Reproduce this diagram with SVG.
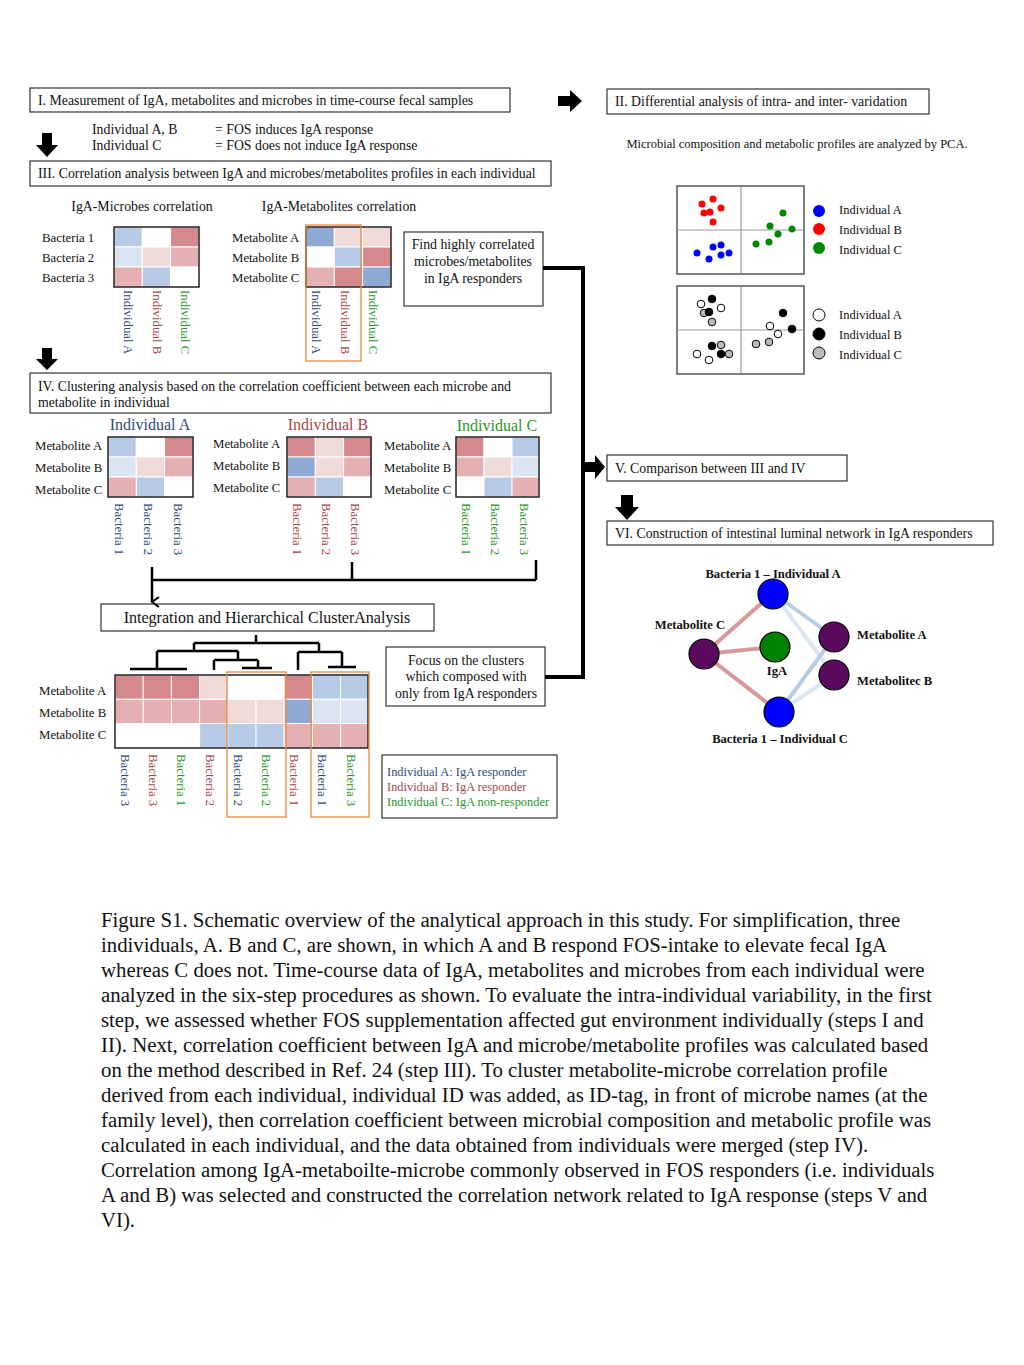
<svg xmlns="http://www.w3.org/2000/svg" width="1024" height="1365" viewBox="0 0 1024 1365">
<style>
text{font-family:"Liberation Serif","Times New Roman",serif;fill:#111}
.t{font-size:13.8px}
.s{font-size:12.8px}
.p{font-size:12.5px}
.lg{font-size:12.4px}
.ti{font-size:16px}
.nl{font-size:12.6px;font-weight:bold}
.cap{font-size:20.8px}
.box{fill:#fff;stroke:#333;stroke-width:1.2}
.hm{fill:none;stroke:#222;stroke-width:1.5}
.cell{stroke:#fff;stroke-width:1}
.R3{fill:#d48a8c}.R2{fill:#e5b0b2}.R1{fill:#f1dada}.B3{fill:#8eaad4}.B2{fill:#b7cbe6}.B1{fill:#dbe4f1}.W{fill:#fff}
.ca{fill:#2f4a7c}.cb{fill:#a3474b}.cc{fill:#2a962a}
.org{fill:none;stroke:#e8893a;stroke-width:1.3}
.ln{fill:none;stroke:#000;stroke-width:2.5}
.thick{fill:none;stroke:#000;stroke-width:4}
.blk{fill:#000}
.grid{stroke:#9a9a9a;stroke-width:1.2}
.pbox{fill:#fff;stroke:#555;stroke-width:1.5}
.node{stroke:#000;stroke-width:1.2}
</style>
<defs>
<marker id="chev" viewBox="0 0 12 12" refX="6" refY="11" markerWidth="12" markerHeight="12" markerUnits="userSpaceOnUse" orient="auto-start-reverse">
<path d="M1,4 L6,11 L11,4" fill="none" stroke="#000" stroke-width="2"/>
</marker>
</defs>
<rect width="1024" height="1365" fill="#fff"/>

<!-- Step I -->
<g id="step1">
<rect class="box" x="30" y="88" width="480" height="24"/>
<text class="t" x="38" y="105">I. Measurement of  IgA, metabolites and microbes in time-course fecal samples</text>
</g>
<g id="individuals-note">
<text class="t" x="92" y="134">Individual A, B</text>
<text class="t" x="215" y="134">= FOS induces IgA response</text>
<text class="t" x="92" y="150">Individual C</text>
<text class="t" x="215" y="150">= FOS does not induce IgA response</text>
</g>

<!-- Step II -->
<g id="step2">
<rect class="box" x="607" y="89" width="322" height="25"/>
<text class="t" x="615" y="106">II. Differential analysis of intra- and inter- varidation</text>
<text class="p" x="797" y="148" text-anchor="middle">Microbial composition and metabolic profiles are analyzed by PCA.</text>
</g>

<!-- PCA plot 1 -->
<g id="pca1">
<rect class="pbox" x="677" y="186" width="127" height="88"/>
<line class="grid" x1="741" y1="187" x2="741" y2="273"/>
<line class="grid" x1="678" y1="230" x2="803" y2="230"/>
<g fill="#f00">
<circle cx="702" cy="204" r="3.5"/><circle cx="713" cy="199" r="3.5"/><circle cx="721" cy="208" r="3.5"/><circle cx="704" cy="213" r="3.5"/><circle cx="710" cy="212" r="3.5"/><circle cx="713" cy="222" r="3.5"/>
</g>
<g fill="#00f">
<circle cx="697" cy="253" r="3.5"/><circle cx="713" cy="247" r="3.5"/><circle cx="721" cy="245" r="3.5"/><circle cx="721" cy="255" r="3.5"/><circle cx="729" cy="253" r="3.5"/><circle cx="709" cy="259" r="3.5"/>
</g>
<g fill="#080">
<circle cx="783" cy="213" r="3.5"/><circle cx="770" cy="226" r="3.5"/><circle cx="792" cy="229" r="3.5"/><circle cx="778" cy="234" r="3.5"/><circle cx="756" cy="244" r="3.5"/><circle cx="769" cy="242" r="3.5"/>
</g>
<circle cx="819" cy="211" r="6" fill="#00f"/>
<circle cx="819" cy="229" r="6" fill="#f00"/>
<circle cx="819" cy="248" r="6" fill="#080"/>
<text class="p" x="839" y="214">Individual A</text>
<text class="p" x="839" y="234">Individual B</text>
<text class="p" x="839" y="254">Individual C</text>
</g>

<!-- PCA plot 2 -->
<g id="pca2">
<rect class="pbox" x="677" y="286" width="127" height="88"/>
<line class="grid" x1="741" y1="287" x2="741" y2="373"/>
<line class="grid" x1="678" y1="330" x2="803" y2="330"/>
<g stroke="#000" stroke-width="1">
<circle cx="701" cy="304" r="3.8" fill="#fff"/><circle cx="712" cy="299" r="3.8" fill="#000"/><circle cx="721" cy="308" r="3.8" fill="#fff"/><circle cx="704" cy="313" r="3.8" fill="#bbb"/><circle cx="709" cy="312" r="3.8" fill="#000"/><circle cx="712" cy="322" r="3.8" fill="#bbb"/>
<circle cx="712" cy="346" r="3.8" fill="#000"/><circle cx="721" cy="345" r="3.8" fill="#bbb"/><circle cx="697" cy="354" r="3.8" fill="#fff"/><circle cx="721" cy="354" r="3.8" fill="#000"/><circle cx="729" cy="354" r="3.8" fill="#bbb"/><circle cx="709" cy="360" r="3.8" fill="#fff"/>
<circle cx="783" cy="313" r="3.8" fill="#000"/><circle cx="770" cy="326" r="3.8" fill="#fff"/><circle cx="792" cy="329" r="3.8" fill="#000"/><circle cx="778" cy="334" r="3.8" fill="#fff"/><circle cx="756" cy="344" r="3.8" fill="#bbb"/><circle cx="769" cy="342" r="3.8" fill="#bbb"/>
<circle cx="819" cy="315" r="6" fill="#fff"/><circle cx="819" cy="334" r="6" fill="#000"/><circle cx="819" cy="353" r="6" fill="#bbb"/>
</g>
<text class="p" x="839" y="319">Individual A</text>
<text class="p" x="839" y="339">Individual B</text>
<text class="p" x="839" y="359">Individual C</text>
</g>

<!-- Step III -->
<g id="step3">
<rect class="box" x="30" y="161" width="521" height="25"/>
<text class="t" x="38" y="178">III. Correlation analysis between IgA and microbes/metabolites profiles in each individual</text>
</g>

<g id="iga-microbes">
<text class="t" x="142" y="211" text-anchor="middle">IgA-Microbes correlation</text>
<text class="s" x="42" y="242">Bacteria 1</text>
<text class="s" x="42" y="262">Bacteria 2</text>
<text class="s" x="42" y="282">Bacteria 3</text>
<g transform="translate(114,227)">
<rect class="cell B2" x="0" y="0" width="28.3" height="20"/><rect class="cell W" x="28.3" y="0" width="28.3" height="20"/><rect class="cell R3" x="56.6" y="0" width="28.4" height="20"/>
<rect class="cell B1" x="0" y="20" width="28.3" height="20"/><rect class="cell R1" x="28.3" y="20" width="28.3" height="20"/><rect class="cell R2" x="56.6" y="20" width="28.4" height="20"/>
<rect class="cell R2" x="0" y="40" width="28.3" height="20"/><rect class="cell B2" x="28.3" y="40" width="28.3" height="20"/><rect class="cell W" x="56.6" y="40" width="28.4" height="20"/>
<rect class="hm" x="0" y="0" width="85" height="60"/>
</g>
<text class="s ca" transform="translate(124,290) rotate(90)">Individual A</text>
<text class="s cb" transform="translate(153,290) rotate(90)">Individual B</text>
<text class="s cc" transform="translate(181,290) rotate(90)">Individual C</text>
</g>

<g id="iga-metabolites">
<text class="t" x="339" y="211" text-anchor="middle">IgA-Metabolites correlation</text>
<text class="s" x="232" y="242">Metabolite A</text>
<text class="s" x="232" y="262">Metabolite B</text>
<text class="s" x="232" y="282">Metabolite C</text>
<g transform="translate(306,227)">
<rect class="cell B3" x="0" y="0" width="28.3" height="20"/><rect class="cell R1" x="28.3" y="0" width="28.3" height="20"/><rect class="cell R1" x="56.6" y="0" width="28.4" height="20"/>
<rect class="cell W" x="0" y="20" width="28.3" height="20"/><rect class="cell B2" x="28.3" y="20" width="28.3" height="20"/><rect class="cell R3" x="56.6" y="20" width="28.4" height="20"/>
<rect class="cell R2" x="0" y="40" width="28.3" height="20"/><rect class="cell R3" x="28.3" y="40" width="28.3" height="20"/><rect class="cell B3" x="56.6" y="40" width="28.4" height="20"/>
<rect class="hm" x="0" y="0" width="85" height="60"/>
</g>
<rect class="org" x="306" y="225" width="55" height="136"/>
<text class="s ca" transform="translate(312,290) rotate(90)">Individual A</text>
<text class="s cb" transform="translate(341,290) rotate(90)">Individual B</text>
<text class="s cc" transform="translate(369,290) rotate(90)">Individual C</text>
</g>

<g id="find-correlated">
<rect class="box" x="404" y="232" width="139" height="74"/>
<text class="t" x="473" y="249" text-anchor="middle">Find highly correlated</text>
<text class="t" x="473" y="266" text-anchor="middle">microbes/metabolites</text>
<text class="t" x="473" y="283" text-anchor="middle">in IgA responders</text>
</g>

<!-- Step IV -->
<g id="step4">
<rect class="box" x="30" y="373" width="521" height="40"/>
<text class="t" x="38" y="391">IV. Clustering analysis based on the correlation coefficient between each microbe and</text>
<text class="t" x="38" y="407">metabolite in individual</text>
</g>

<g id="individual-a">
<text class="ti ca" x="150" y="430" text-anchor="middle">Individual A</text>
<text class="s" x="35" y="450">Metabolite A</text>
<text class="s" x="35" y="472">Metabolite B</text>
<text class="s" x="35" y="494">Metabolite C</text>
<g transform="translate(108,437)">
<rect class="cell B2" x="0" y="0" width="28.3" height="20"/><rect class="cell W" x="28.3" y="0" width="28.3" height="20"/><rect class="cell R3" x="56.6" y="0" width="28.4" height="20"/>
<rect class="cell B1" x="0" y="20" width="28.3" height="20"/><rect class="cell R1" x="28.3" y="20" width="28.3" height="20"/><rect class="cell R2" x="56.6" y="20" width="28.4" height="20"/>
<rect class="cell R2" x="0" y="40" width="28.3" height="20"/><rect class="cell B2" x="28.3" y="40" width="28.3" height="20"/><rect class="cell W" x="56.6" y="40" width="28.4" height="20"/>
<rect class="hm" x="0" y="0" width="85" height="60"/>
</g>
<text class="s ca" transform="translate(115,503) rotate(90)">Bacteria 1</text>
<text class="s ca" transform="translate(144,503) rotate(90)">Bacteria 2</text>
<text class="s ca" transform="translate(174,503) rotate(90)">Bacteria 3</text>
</g>

<g id="individual-b">
<text class="ti cb" x="328" y="430" text-anchor="middle">Individual B</text>
<text class="s" x="213" y="448">Metabolite A</text>
<text class="s" x="213" y="470">Metabolite B</text>
<text class="s" x="213" y="492">Metabolite C</text>
<g transform="translate(287,437)">
<rect class="cell R3" x="0" y="0" width="28.3" height="20"/><rect class="cell R1" x="28.3" y="0" width="28.3" height="20"/><rect class="cell R3" x="56.6" y="0" width="28.4" height="20"/>
<rect class="cell B3" x="0" y="20" width="28.3" height="20"/><rect class="cell R1" x="28.3" y="20" width="28.3" height="20"/><rect class="cell R2" x="56.6" y="20" width="28.4" height="20"/>
<rect class="cell R2" x="0" y="40" width="28.3" height="20"/><rect class="cell B2" x="28.3" y="40" width="28.3" height="20"/><rect class="cell W" x="56.6" y="40" width="28.4" height="20"/>
<rect class="hm" x="0" y="0" width="84" height="60"/>
</g>
<text class="s cb" transform="translate(293,503) rotate(90)">Bacteria 1</text>
<text class="s cb" transform="translate(322,503) rotate(90)">Bacteria 2</text>
<text class="s cb" transform="translate(351,503) rotate(90)">Bacteria 3</text>
</g>

<g id="individual-c">
<text class="ti cc" x="497" y="431" text-anchor="middle">Individual C</text>
<text class="s" x="384" y="450">Metabolite A</text>
<text class="s" x="384" y="472">Metabolite B</text>
<text class="s" x="384" y="494">Metabolite C</text>
<g transform="translate(456,437)">
<rect class="cell R3" x="0" y="0" width="28" height="20"/><rect class="cell W" x="28" y="0" width="28" height="20"/><rect class="cell B2" x="56" y="0" width="27" height="20"/>
<rect class="cell R2" x="0" y="20" width="28" height="20"/><rect class="cell R1" x="28" y="20" width="28" height="20"/><rect class="cell B1" x="56" y="20" width="27" height="20"/>
<rect class="cell W" x="0" y="40" width="28" height="20"/><rect class="cell B2" x="28" y="40" width="28" height="20"/><rect class="cell R2" x="56" y="40" width="27" height="20"/>
<rect class="hm" x="0" y="0" width="83" height="60"/>
</g>
<text class="s cc" transform="translate(462,503) rotate(90)">Bacteria 1</text>
<text class="s cc" transform="translate(491,503) rotate(90)">Bacteria 2</text>
<text class="s cc" transform="translate(520,503) rotate(90)">Bacteria 3</text>
</g>

<g id="integration">
<rect class="box" x="101" y="604" width="333" height="27"/>
<text class="ti" x="267" y="623" text-anchor="middle">Integration and Hierarchical ClusterAnalysis</text>
</g>

<g id="dendrogram">
<path class="ln" d="M256,635 V643 M194,643 H319 M194,643 V651 M157,651 H238 M157,651 V669 M130,669 H187 M238,651 V660 M214,660 H258 M214,660 V670 M258,660 V668 M242,668 H272 M319,643 V652 M298,652 H342 M298,652 V670 M342,652 V667 M328,667 H356"/>
</g>

<g id="merged-heatmap">
<text class="s" x="39" y="695">Metabolite A</text>
<text class="s" x="39" y="717">Metabolite B</text>
<text class="s" x="39" y="739">Metabolite C</text>
<g transform="translate(115,675)">
<rect class="cell R3" x="0" y="0" width="28.2" height="24.3"/><rect class="cell R3" x="28.2" y="0" width="28.2" height="24.3"/><rect class="cell R3" x="56.4" y="0" width="28.2" height="24.3"/><rect class="cell R1" x="84.6" y="0" width="28.2" height="24.3"/><rect class="cell W" x="112.8" y="0" width="28.2" height="24.3"/><rect class="cell W" x="141" y="0" width="28.2" height="24.3"/><rect class="cell R3" x="169.2" y="0" width="28.2" height="24.3"/><rect class="cell B2" x="197.4" y="0" width="28.2" height="24.3"/><rect class="cell B2" x="225.6" y="0" width="27.4" height="24.3"/>
<rect class="cell R2" x="0" y="24.3" width="28.2" height="24.3"/><rect class="cell R2" x="28.2" y="24.3" width="28.2" height="24.3"/><rect class="cell R2" x="56.4" y="24.3" width="28.2" height="24.3"/><rect class="cell R2" x="84.6" y="24.3" width="28.2" height="24.3"/><rect class="cell R1" x="112.8" y="24.3" width="28.2" height="24.3"/><rect class="cell R1" x="141" y="24.3" width="28.2" height="24.3"/><rect class="cell B3" x="169.2" y="24.3" width="28.2" height="24.3"/><rect class="cell B1" x="197.4" y="24.3" width="28.2" height="24.3"/><rect class="cell B1" x="225.6" y="24.3" width="27.4" height="24.3"/>
<rect class="cell W" x="0" y="48.6" width="28.2" height="24.4"/><rect class="cell W" x="28.2" y="48.6" width="28.2" height="24.4"/><rect class="cell W" x="56.4" y="48.6" width="28.2" height="24.4"/><rect class="cell B2" x="84.6" y="48.6" width="28.2" height="24.4"/><rect class="cell B2" x="112.8" y="48.6" width="28.2" height="24.4"/><rect class="cell B2" x="141" y="48.6" width="28.2" height="24.4"/><rect class="cell R2" x="169.2" y="48.6" width="28.2" height="24.4"/><rect class="cell R2" x="197.4" y="48.6" width="28.2" height="24.4"/><rect class="cell R2" x="225.6" y="48.6" width="27.4" height="24.4"/>
<rect class="hm" x="0" y="0" width="253" height="73"/>
</g>
<text class="s ca" transform="translate(121,754) rotate(90)">Bacteria 3</text>
<text class="s cb" transform="translate(149,754) rotate(90)">Bacteria 3</text>
<text class="s cc" transform="translate(177,754) rotate(90)">Bacteria 1</text>
<text class="s cb" transform="translate(206,754) rotate(90)">Bacteria 2</text>
<text class="s ca" transform="translate(234,754) rotate(90)">Bacteria 2</text>
<text class="s cc" transform="translate(262,754) rotate(90)">Bacteria 2</text>
<text class="s cb" transform="translate(290,754) rotate(90)">Bacteria 1</text>
<text class="s ca" transform="translate(318,754) rotate(90)">Bacteria 1</text>
<text class="s cc" transform="translate(347,754) rotate(90)">Bacteria 3</text>
<rect class="org" x="227" y="672" width="59" height="145"/>
<rect class="org" x="311" y="672" width="58" height="145"/>
</g>

<g id="focus-clusters">
<rect class="box" x="386" y="647" width="159" height="59"/>
<text class="t" x="466" y="665" text-anchor="middle">Focus on the clusters</text>
<text class="t" x="466" y="681" text-anchor="middle">which  composed with</text>
<text class="t" x="466" y="698" text-anchor="middle">only from IgA responders</text>
</g>

<g id="legend">
<rect class="box" x="382" y="755" width="175" height="63"/>
<text class="lg ca" x="387" y="776">Individual A: IgA responder</text>
<text class="lg cb" x="387" y="791">Individual B: IgA responder</text>
<text class="lg cc" x="387" y="806">Individual C: IgA non-responder</text>
</g>

<!-- Step V / VI -->
<g id="step5">
<rect class="box" x="607" y="455" width="240" height="26"/>
<text class="t" x="615" y="473">V. Comparison between III and IV</text>
</g>
<g id="step6">
<rect class="box" x="607" y="521" width="386" height="24"/>
<text class="t" x="615" y="538">VI. Construction of intestinal luminal network in IgA responders</text>
</g>

<!-- Network -->
<g id="network-edges">
<g stroke-width="4" stroke-linecap="round">
<line x1="704" y1="654" x2="773" y2="593" stroke="#d9999b"/>
<line x1="704" y1="654" x2="775" y2="647" stroke="#d9999b"/>
<line x1="704" y1="654" x2="779" y2="712" stroke="#d9999b"/>
<line x1="773" y1="593" x2="834" y2="675" stroke="#dde7f1"/>
<line x1="779" y1="712" x2="834" y2="675" stroke="#dde7f1"/>
<line x1="773" y1="593" x2="834" y2="637" stroke="#b9cde2"/>
<line x1="779" y1="712" x2="834" y2="637" stroke="#b9cde2"/>
</g>
</g>
<g id="node-bac1a"><circle class="node" cx="773" cy="594" r="15" fill="#00f"/><text class="nl" x="773" y="578" text-anchor="middle">Bacteria 1 – Individual A</text></g>
<g id="node-metc"><circle class="node" cx="704" cy="654" r="15" fill="#5a0a5c"/><text class="nl" x="690" y="629" text-anchor="middle">Metabolite C</text></g>
<g id="node-iga"><circle class="node" cx="775" cy="647" r="15" fill="#008000"/><text class="nl" x="777" y="675" text-anchor="middle">IgA</text></g>
<g id="node-meta"><circle class="node" cx="834" cy="637" r="15" fill="#5a0a5c"/><text class="nl" x="857" y="639">Metabolite A</text></g>
<g id="node-metb"><circle class="node" cx="834" cy="675" r="15" fill="#5a0a5c"/><text class="nl" x="857" y="685">Metabolitec B</text></g>
<g id="node-bac1c"><circle class="node" cx="779" cy="712" r="15" fill="#00f"/><text class="nl" x="780" y="743" text-anchor="middle">Bacteria 1 – Individual C</text></g>

<!-- Connectors -->
<g id="connectors">
<path class="blk" d="M558,96 H570 V90 L582,101 L570,112 V106 H558 Z"/>
<path class="blk" d="M42,133 H52 V145 H58 L47,157 L36,145 H42 Z"/>
<path class="blk" d="M42,348 H52 V359 H58 L47,370 L36,359 H42 Z"/>
<path class="blk" d="M621,495 H633 V507 H639 L627,520 L615,507 H621 Z"/>
<path class="thick" d="M543,268 H583 V677 H545"/>
<path class="blk" d="M583,462 H595 V455 L605,467 L595,479 V472 H583 Z"/>
<path class="ln" d="M152,580 H536 M352,562 V580 M536,560 V580"/>
<path class="ln" d="M152,567 V602" marker-end="url(#chev)"/>
</g>

<!-- Caption -->
<g id="caption">
<text class="cap" x="101" y="927">Figure S1. Schematic overview of the analytical approach in this study. For simplification, three</text>
<text class="cap" x="101" y="952">individuals, A. B and C, are shown, in which A and B respond FOS-intake to elevate fecal IgA</text>
<text class="cap" x="101" y="977">whereas C does not. Time-course data of IgA, metabolites and microbes from each individual were</text>
<text class="cap" x="101" y="1002">analyzed in the six-step procedures as shown. To evaluate the intra-individual variability, in the first</text>
<text class="cap" x="101" y="1027">step, we assessed whether FOS supplementation affected gut environment individually (steps I and</text>
<text class="cap" x="101" y="1052">II). Next, correlation coefficient between IgA and microbe/metabolite profiles was calculated based</text>
<text class="cap" x="101" y="1077">on the method described in Ref. 24 (step III). To cluster metabolite-microbe correlation profile</text>
<text class="cap" x="101" y="1102">derived from each individual, individual ID was added, as ID-tag, in front of microbe names (at the</text>
<text class="cap" x="101" y="1127">family level), then correlation coefficient between microbial composition and metabolic profile was</text>
<text class="cap" x="101" y="1152">calculated in each individual, and the data obtained from individuals were merged (step IV).</text>
<text class="cap" x="101" y="1177">Correlation among IgA-metaboilte-microbe commonly observed in FOS responders (i.e. individuals</text>
<text class="cap" x="101" y="1202">A and B) was selected and constructed the correlation network related to IgA response (steps V and</text>
<text class="cap" x="101" y="1227">VI).</text>
</g>
</svg>
